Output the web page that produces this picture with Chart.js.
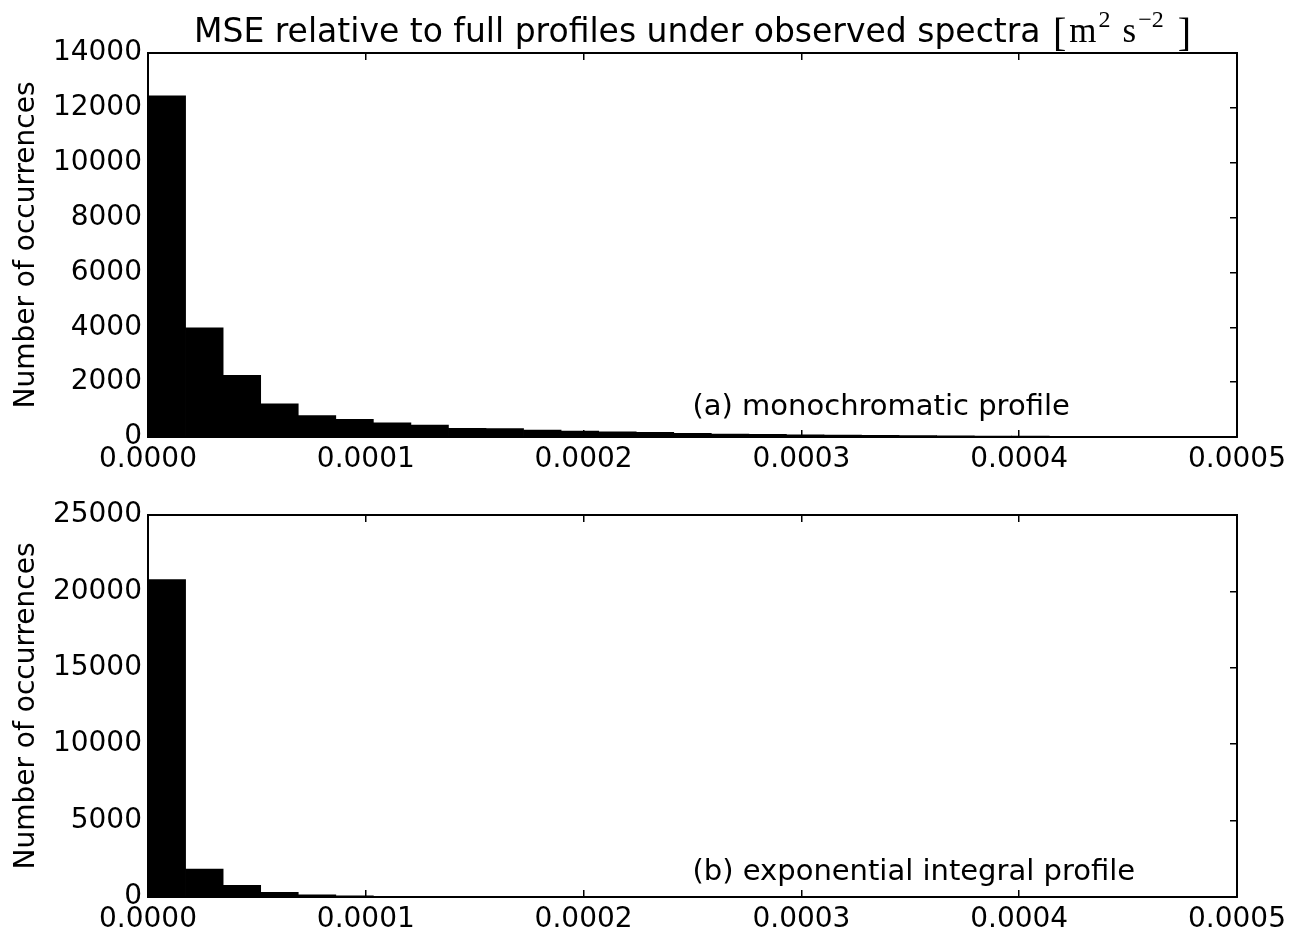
<!DOCTYPE html>
<html>
<head>
<meta charset="utf-8">
<script src="https://cdn.jsdelivr.net/npm/chart.js@4.4.1/dist/chart.umd.min.js"></script>
<style>
	body { margin: 0; background: #fff; }
	.box { position: absolute; left: 0; width: 1308px; }
	#boxA { top: 0; height: 470px; }
	#boxB { top: 470px; height: 469px; }
</style>
</head>
<body>
<div class="box" id="boxA"><canvas id="chartA"></canvas></div>
<div class="box" id="boxB"><canvas id="chartB"></canvas></div>
<script>
// histogram bins (left edges), 29 bins between 0 and 0.0005
var binStarts = [
	0, 1.7241e-5, 3.4483e-5, 5.1724e-5, 6.8966e-5, 8.6207e-5, 1.03448e-4, 1.2069e-4,
	1.37931e-4, 1.55172e-4, 1.72414e-4, 1.89655e-4, 2.06897e-4, 2.24138e-4, 2.41379e-4,
	2.58621e-4, 2.75862e-4, 2.93103e-4, 3.10345e-4, 3.27586e-4, 3.44828e-4, 3.62069e-4,
	3.7931e-4, 3.96552e-4, 4.13793e-4, 4.31034e-4, 4.48276e-4, 4.65517e-4, 4.82759e-4
];
var binWidth = 1.7241e-5;

var countsMono = [
	12450, 3990, 2260, 1220, 790, 660, 530, 450, 330, 320, 260, 230, 200, 180, 150,
	120, 110, 95, 85, 75, 65, 55, 50, 45, 40, 35, 30, 25, 20
];
var countsExpInt = [
	20800, 1850, 780, 330, 170, 100, 70, 55, 45, 40, 30, 25, 20, 18, 15,
	12, 10, 9, 8, 7, 6, 5, 5, 4, 4, 3, 3, 2, 2
];

var xTicks = [0, 0.0001, 0.0002, 0.0003, 0.0004, 0.0005];
var yTicksA = [0, 2000, 4000, 6000, 8000, 10000, 12000, 14000];
var yTicksB = [0, 5000, 10000, 15000, 20000, 25000];

var titleText = 'MSE relative to full profiles under observed spectra';
var yTitle = 'Number of occurrences';
var labelA = '(a) monochromatic profile';
var labelB = '(b) exponential integral profile';

Chart.defaults.font.family = '"DejaVu Sans"';
Chart.defaults.color = '#000';

function toPoints(counts) {
	return counts.map(function (c, i) {
		return { x: binStarts[i] + binWidth / 2, y: c };
	});
}

function fixedTicks(vals) {
	return function (scale) {
		scale.ticks = vals.map(function (v) { return { value: v }; });
	};
}

// text placed in data coordinates
var textLabel = {
	id: 'textLabel',
	afterDraw: function (chart, args, opts) {
		var ctx = chart.ctx;
		ctx.save();
		ctx.font = '29px "DejaVu Sans"';
		ctx.fillStyle = '#000';
		ctx.textBaseline = 'alphabetic';
		ctx.textAlign = 'left';
		ctx.fillText(opts.text, chart.scales.x.getPixelForValue(opts.x), chart.scales.y.getPixelForValue(opts.y));
		ctx.restore();
	}
};

// title with a serif unit part, like mathtext
var mixedTitle = {
	id: 'mixedTitle',
	afterDraw: function (chart) {
		var ctx = chart.ctx;
		var area = chart.chartArea;
		var parts = [
			{ t: titleText + ' ', f: '33px "DejaVu Sans"', dy: 0, gap: 2 },
			{ t: '[', f: '40px "Liberation Serif"', dy: 4, gap: 3 },
			{ t: 'm', f: '35px "Liberation Serif"', dy: 0, gap: 2 },
			{ t: '2', f: '24px "Liberation Serif"', dy: -15, gap: 12 },
			{ t: 's', f: '35px "Liberation Serif"', dy: 0, gap: 2 },
			{ t: '\u22122', f: '24px "Liberation Serif"', dy: -15, gap: 14 },
			{ t: ']', f: '40px "Liberation Serif"', dy: 4, gap: 0 }
		];
		ctx.save();
		var total = 0;
		parts.forEach(function (p) {
			ctx.font = p.f;
			p.w = ctx.measureText(p.t).width;
			total += p.w + p.gap;
		});
		var x = (area.left + area.right) / 2 - total / 2;
		var base = area.top - 11;
		ctx.fillStyle = '#000';
		ctx.textBaseline = 'alphabetic';
		ctx.textAlign = 'left';
		parts.forEach(function (p) {
			ctx.font = p.f;
			ctx.fillText(p.t, x, base + p.dy);
			x += p.w + p.gap;
		});
		ctx.restore();
	}
};

function makeChart(id, counts, yMax, yTicks, xHeight, padTop, label, labelY, extraPlugins) {
	return new Chart(document.getElementById(id), {
		type: 'bar',
		data: {
			datasets: [
				{
					data: toPoints(counts),
					backgroundColor: '#000',
					borderWidth: 0,
					barPercentage: 1.02,
					categoryPercentage: 1,
				},
			],
		},
		options: {
			responsive: true,
			maintainAspectRatio: false,
			animation: false,
			layout: { padding: { top: padTop, right: 71, left: 0, bottom: 0 } },
			plugins: {
				legend: { display: false },
				tooltip: { enabled: false },
				textLabel: { text: label, x: 0.00025, y: labelY },
			},
			scales: {
				x: {
					type: 'linear',
					position: 'bottom',
					min: 0,
					max: 0.0005,
					offset: false,
					afterBuildTicks: fixedTicks(xTicks),
					afterFit: function (s) { s.height = xHeight; },
					ticks: {
						font: { size: 28 },
						padding: 13,
						maxRotation: 0,
						callback: function (v) { return Number(v).toFixed(4); },
					},
					grid: { offset: false, drawOnChartArea: false, tickLength: -7, color: '#000', lineWidth: 1.5 },
					border: { display: true, color: '#000', width: 2 },
				},
				x2: {
					type: 'linear',
					position: 'top',
					min: 0,
					max: 0.0005,
					offset: false,
					afterBuildTicks: fixedTicks(xTicks),
					afterFit: function (s) { s.height = 0; },
					ticks: { display: false },
					grid: { offset: false, drawOnChartArea: false, tickLength: -7, color: '#000', lineWidth: 1.5 },
					border: { display: true, color: '#000', width: 2 },
				},
				y: {
					position: 'left',
					min: 0,
					max: yMax,
					afterBuildTicks: fixedTicks(yTicks),
					afterFit: function (s) { s.width = 148; },
					ticks: {
						font: { size: 28 },
						padding: 13,
						callback: function (v) { return String(v); },
					},
					grid: { drawOnChartArea: false, tickLength: -7, color: '#000', lineWidth: 1.5 },
					border: { display: true, color: '#000', width: 2 },
					title: {
						display: true,
						text: yTitle,
						font: { size: 28 },
						padding: { top: 10, bottom: 0 },
					},
				},
				y2: {
					position: 'right',
					min: 0,
					max: yMax,
					afterBuildTicks: fixedTicks(yTicks),
					afterFit: function (s) { s.width = 0; },
					ticks: { display: false },
					grid: { drawOnChartArea: false, tickLength: -7, color: '#000', lineWidth: 1.5 },
					border: { display: true, color: '#000', width: 2 },
				},
			},
		},
		plugins: [textLabel].concat(extraPlugins),
	});
}

var chartA = makeChart('chartA', countsMono, 14000, yTicksA, 33, 53, labelA, 820, [mixedTitle]);
var chartB = makeChart('chartB', countsExpInt, 25000, yTicksB, 42, 45, labelB, 1080, []);
</script>
</body>
</html>
